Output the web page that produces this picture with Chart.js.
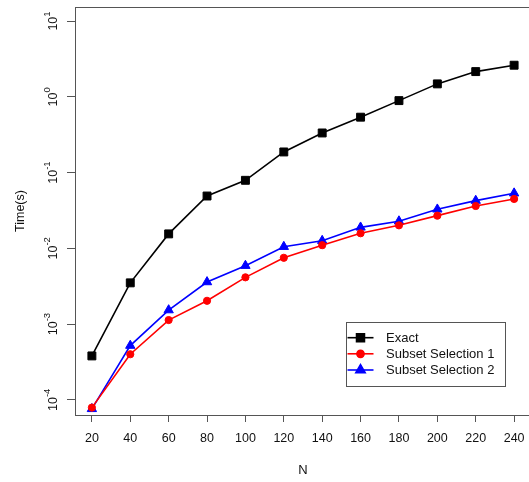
<!DOCTYPE html>
<html>
<head>
<meta charset="utf-8">
<script src="https://cdn.jsdelivr.net/npm/chart.js@4/dist/chart.umd.min.js"></script>
<style>
html,body{margin:0;padding:0;overflow:hidden;background:#fff;width:529px;height:482px;}
#wrap{width:560px;height:482px;}
</style>
</head>
<body>
<div id="wrap"><canvas id="c" width="560" height="482" style="width:560px;height:482px"></canvas></div>
<script>
const categories = [20, 40, 60, 80, 100, 120, 140, 160, 180, 200, 220, 240];
const exactTimes = [3.8e-4, 3.5e-3, 0.0155, 0.049, 0.079, 0.187, 0.333, 0.538, 0.89, 1.48, 2.15, 2.61];
const subset1Times = [7.9e-5, 4.0e-4, 1.13e-3, 2.03e-3, 4.14e-3, 7.5e-3, 0.011, 0.0158, 0.0201, 0.027, 0.0362, 0.0448];
const subset2Times = [7.6e-5, 5.2e-4, 1.53e-3, 3.59e-3, 5.9e-3, 0.0105, 0.0126, 0.0189, 0.0228, 0.0327, 0.0426, 0.0533];
const yTickExponents = [-4, -3, -2, -1, 0, 1];
const seriesNames = ['Exact', 'Subset Selection 1', 'Subset Selection 2'];

const FONT = '"Liberation Sans", Arial, Helvetica, sans-serif';
const AXIS_COL = '#555';
const TEXT_COL = '#111';

function pts(vals){ return categories.map((x,i)=>({x:x, y:vals[i]})); }

const frameLegendPlugin = {
  id: 'frameLegend',
  afterDraw(chart){
    const ctx = chart.ctx;
    const a = chart.chartArea;
    const ys = chart.scales.y;
    ctx.save();
    // frame (its right side lies beyond the visible page, as in the reference)
    ctx.strokeStyle = AXIS_COL;
    ctx.lineWidth = 1;
    ctx.strokeRect(a.left + 0.5, a.top + 0.5, a.right - a.left, a.bottom - a.top);
    // y tick labels 10^k, rotated
    ctx.fillStyle = TEXT_COL;
    ctx.textBaseline = 'alphabetic';
    ctx.textAlign = 'left';
    yTickExponents.forEach(k=>{
      const py = ys.getPixelForValue(Math.pow(10,k));
      const base = '10', sup = String(k);
      ctx.font = '12.5px ' + FONT;
      const wb = ctx.measureText(base).width;
      ctx.font = '9.5px ' + FONT;
      const wsup = ctx.measureText(sup).width;
      const tot = wb + wsup;
      ctx.save();
      ctx.translate(56.5, py);
      ctx.rotate(-Math.PI/2);
      ctx.font = '12.5px ' + FONT;
      ctx.fillText(base, -tot/2, 0);
      ctx.font = '9.5px ' + FONT;
      ctx.fillText(sup, -tot/2 + wb, -6.5);
      ctx.restore();
    });
    // legend
    const lx = 346, ly = 322, lw = 159, lh = 64;
    ctx.fillStyle = '#fff';
    ctx.fillRect(lx, ly, lw, lh);
    ctx.strokeStyle = AXIS_COL;
    ctx.lineWidth = 1;
    ctx.strokeRect(lx + 0.5, ly + 0.5, lw, lh);
    const rowY = [337.7, 353.8, 370];
    chart.data.datasets.forEach((ds, i)=>{
      const y = rowY[i];
      ctx.strokeStyle = ds.borderColor;
      ctx.lineWidth = ds.borderWidth;
      ctx.beginPath();
      ctx.moveTo(347.5, y);
      ctx.lineTo(373.5, y);
      ctx.stroke();
      Chart.helpers.drawPoint(ctx, {pointStyle: ds.pointStyle, radius: ds.pointRadius, borderWidth: 1}, 360.5, y);
      ctx.fillStyle = ds.backgroundColor;
      ctx.fill();
      ctx.fillStyle = TEXT_COL;
      ctx.font = '13px ' + FONT;
      ctx.textBaseline = 'middle';
      ctx.textAlign = 'left';
      ctx.fillText(seriesNames[i], 386, y + 0.5);
    });
    ctx.restore();
  }
};

function mkDs(label, vals, color, style, r){
  return {
    label: label, data: pts(vals),
    borderColor: color, backgroundColor: color,
    borderWidth: 1.6,
    pointStyle: style, pointRadius: r, pointHoverRadius: r,
    pointBorderWidth: 1,
    pointBackgroundColor: color, pointBorderColor: color,
    tension: 0, clip: false
  };
}

new Chart(document.getElementById('c'), {
  type: 'line',
  data: {
    datasets: [
      mkDs(seriesNames[0], exactTimes, '#000000', 'rect', 5.6),
      mkDs(seriesNames[1], subset1Times, '#ff0000', 'circle', 3.6),
      mkDs(seriesNames[2], subset2Times, '#0000ff', 'triangle', 5.4)
    ]
  },
  options: {
    responsive: false,
    animation: false,
    devicePixelRatio: 1,
    layout: { padding: { left: 0, top: 7, right: 29, bottom: 0 } },
    plugins: { legend: { display: false }, tooltip: { enabled: false } },
    scales: {
      x: {
        type: 'linear',
        min: 11.2, max: 248.8,
        afterBuildTicks: s => { s.ticks = categories.map(v=>({value:v})); },
        afterFit: s => { s.height = 67; },
        grid: { drawOnChartArea: false, drawTicks: true, tickLength: 7, color: AXIS_COL, lineWidth: 1 },
        border: { display: false },
        ticks: { font: { family: FONT, size: 12.5 }, color: TEXT_COL, padding: 9, maxRotation: 0, autoSkip: false,
                 callback: v => String(v) },
        title: { display: true, text: 'N', font: { family: FONT, size: 13 }, color: TEXT_COL, padding: { top: 0, bottom: 3.5 } }
      },
      y: {
        type: 'logarithmic',
        min: Math.pow(10, -4.2), max: Math.pow(10, 1.185),
        afterBuildTicks: s => { s.ticks = yTickExponents.map(k=>({value: Math.pow(10,k)})); },
        afterFit: s => { s.width = 75; },
        grid: { drawOnChartArea: false, drawTicks: true, tickLength: 8, color: AXIS_COL, lineWidth: 1 },
        border: { display: false },
        ticks: { display: false },
        title: { display: true, text: 'Time(s)', font: { family: FONT, size: 12.5 }, color: TEXT_COL, padding: { top: 13, bottom: 0 } }
      }
    }
  },
  plugins: [frameLegendPlugin]
});
</script>
</body>
</html>
